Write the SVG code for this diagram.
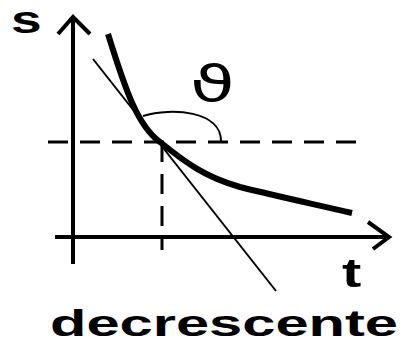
<svg xmlns="http://www.w3.org/2000/svg" width="404" height="343" viewBox="0 0 404 343">
<style>
.ax{stroke:#000;stroke-width:4;fill:none;stroke-linecap:butt}
.dash{stroke:#000;stroke-width:3;fill:none;stroke-dasharray:20 12}
.thin{stroke:#000;stroke-width:2;fill:none}
.lbl{font-family:"Liberation Sans",Arial,sans-serif;font-weight:bold;fill:#000}
</style>
<rect width="404" height="343" fill="#fff"/>
<g id="axes">
<path class="ax" d="M73,264 V18"/>
<path class="ax" d="M58,34 L73,17 L90,34"/>
<path class="ax" d="M55,237 H390"/>
<path class="ax" d="M368,222 L389,237 L373,249"/>
</g>
<g id="guides">
<path class="dash" d="M48,142 H364"/>
<path class="dash" d="M162,142 V250"/>
</g>
<g id="tangent">
<path class="thin" d="M93,59 L276,291"/>
</g>
<g id="curve">
<path d="M108,34 C126,92 138,126 160,142 C186,163 205,177 240,187 C280,197 318,205 352,213" stroke="#000" stroke-width="6" fill="none"/>
</g>
<g id="angle">
<path class="thin" d="M143,116 C172,107 221,111 221,141"/>
</g>
<text class="lbl" x="0" y="0" font-size="38" transform="translate(11,33) scale(1.45,1)">s</text>
<text class="lbl" x="0" y="0" font-size="40" transform="translate(342,287) scale(1.45,1)">t</text>
<text x="0" y="0" font-size="50" font-family="DejaVu Sans,sans-serif" transform="translate(190,101) scale(1.45,1)">ϑ</text>
<text class="lbl" x="50" y="336" font-size="37" textLength="348" lengthAdjust="spacingAndGlyphs">decrescente</text>
</svg>
